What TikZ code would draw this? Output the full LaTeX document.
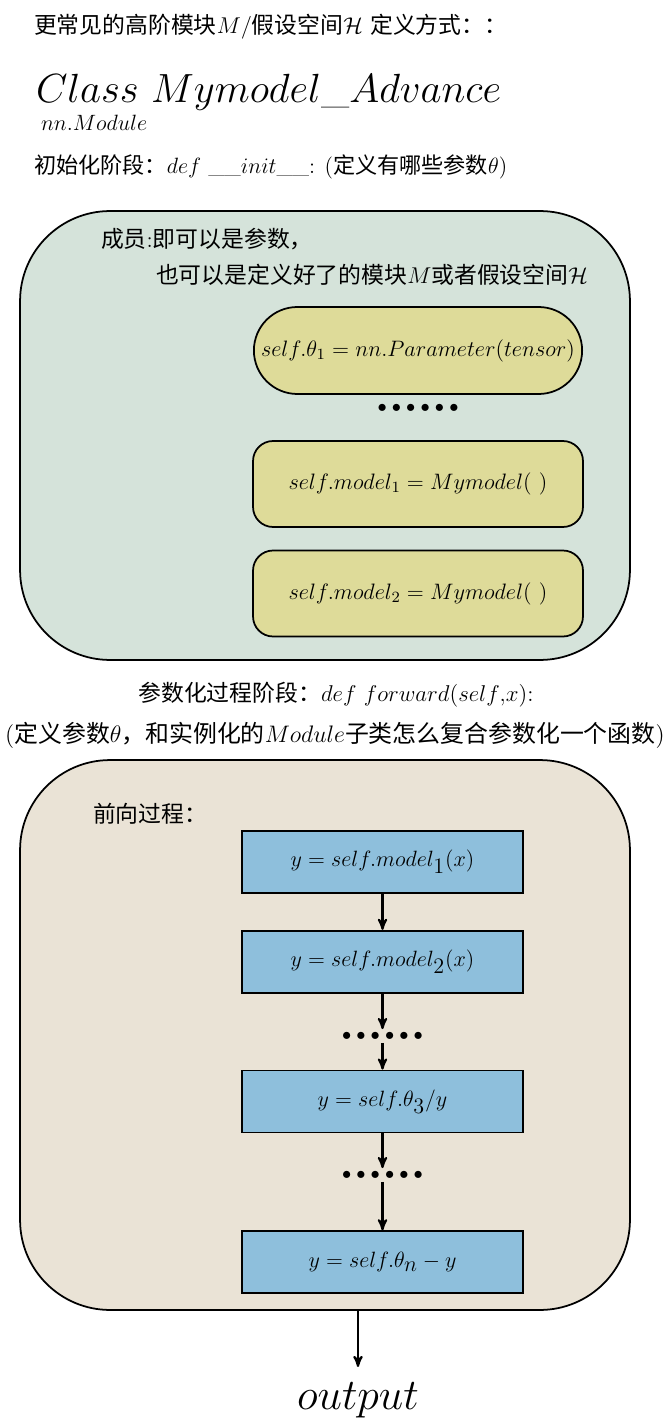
\RequirePackage{fix-cm}
\documentclass[tikz,border=0pt]{standalone}
\usepackage{fontspec}
\usepackage{amsmath}
\usepackage{amssymb}
\usepackage{tikz}
\usetikzlibrary{
  arrows,
  shapes.misc,
  positioning
}
\newfontfamily\cjk{Noto Sans CJK SC}
\definecolor{initfill}{RGB}{213,227,218}
\definecolor{fwdfill}{RGB}{234,227,214}
\definecolor{paramfill}{RGB}{222,219,153}
\definecolor{stepfill}{RGB}{142,191,220}
\newcommand{\sixdots}{${\bullet}\mkern5mu{\bullet}\mkern5mu{\bullet}\mkern5mu{\bullet}\mkern5mu{\bullet}\mkern5mu{\bullet}$}

\begin{document}
\begin{tikzpicture}[
      x=0.02cm,y=-0.02cm,
      container/.style={
         rectangle,
         draw=black,
         line width=1pt,
         rounded corners=1.8cm,
         minimum width=12.2cm
      },
      member/.style={
         rectangle,
         draw=black,
         line width=1pt,
         fill=paramfill,
         rounded corners=0.4cm,
         minimum width=6.6cm,
         minimum height=1.72cm,
         font=\fontsize{12.7pt}{16pt}\selectfont
      },
      memberround/.style={
         rounded rectangle,
         draw=black,
         line width=1pt,
         fill=paramfill,
         minimum width=6.8cm,
         minimum height=1.74cm,
         font=\fontsize{12.7pt}{16pt}\selectfont
      },
      stepbox/.style={
         rectangle,
         draw=black,
         line width=1pt,
         fill=stepfill,
         minimum width=5.62cm,
         minimum height=1.24cm,
         font=\fontsize{12.6pt}{16pt}\selectfont
      },
      dotrow/.style={inner sep=1pt, font=\fontsize{10.5pt}{12pt}\selectfont},
      note/.style={inner sep=0pt, font=\fontsize{13pt}{16pt}\selectfont},
      big/.style={inner sep=0pt, font=\fontsize{23.2pt}{28pt}\selectfont},
      >=stealth', line width=1.2pt
    ]
    \useasboundingbox (0,0) rectangle (671,1425);

    % headings
    \node (headline) [note, anchor=base west] at (33,34)
       {{\cjk 更常见的高阶模块}$M$/{\cjk 假设空间}$\mathcal{H}$ {\cjk 定义方式：：}};
    \node (classname) [big, anchor=base west] at (35,103) {$Class\ Mymodel\_Advance$};
    \node (superclass) [note, font=\fontsize{12.6pt}{15pt}\selectfont, anchor=base west] at (40,131) {$nn.Module$};
    \node (initline) [note, font=\fontsize{12.6pt}{15pt}\selectfont, anchor=base west] at (33,174)
       {{\cjk 初始化阶段：}$def$ \_\_$init$\_\_: ({\cjk 定义有哪些参数}$\theta$)};

    % init stage
    \node (initbox) [container, fill=initfill, minimum height=8.98cm] at (325,435.5) {};
    \node (memberA) [note, anchor=base west] at (100,248) {{\cjk 成员}:{\cjk 即可以是参数，}};
    \node (memberB) [note, anchor=base west] at (155,284)
       {{\cjk 也可以是定义好了的模块}$M${\cjk 或者假设空间}$\mathcal{H}$};
    \node (theta1) [memberround] at (418,350.5) {$self.\theta_1 = nn.Parameter(tensor)$};
    \node (dotsA) [dotrow] at (418,408) {\sixdots};
    \node (model1) [member] at (418,484) {$self.model_1 = Mymodel(\ )$};
    \node (model2) [member] at (418,593.5) {$self.model_2 = Mymodel(\ )$};

    % forward stage
    \node (fwdline) [note, anchor=base] at (336,701)
       {{\cjk 参数化过程阶段：}$def\ forward(self{,}x)$:};
    \node (fwdnote) [note, font=\fontsize{13.6pt}{16pt}\selectfont, anchor=base] at (335,742)
       {({\cjk 定义参数}$\theta${\cjk ，和实例化的}$Module${\cjk 子类怎么复合参数化一个函数})};
    \node (fwdbox) [container, fill=fwdfill, minimum height=11cm] at (325,1035) {};
    \node (fwdlabel) [note, anchor=base west] at (92,822) {{\cjk 前向过程：}};
    \node (step1) [stepbox] at (382.5,862) {$y = self.model_{\textstyle 1}(x)$};
    \node (step2) [stepbox, below=0.72cm of step1] {$y = self.model_{\textstyle 2}(x)$};
    \node (dotsB) [dotrow] at (382.5,1036) {\sixdots};
    \node (step3) [stepbox, below=1.52cm of step2] {$y = self.\theta_{\textstyle 3}/y$};
    \node (dotsC) [dotrow] at (382.5,1175) {\sixdots};
    \node (step4) [stepbox, below=1.94cm of step3] {$y = self.\theta_{\textstyle n} - y$};

    \draw[->] (step1.south) -- (step2.north);
    \draw[->] (step2.south) -- (dotsB.north);
    \draw[->] (dotsB.south) -- (step3.north);
    \draw[->] (step3.south) -- (dotsC.north);
    \draw[->] (dotsC.south) -- (step4.north);

    % output
    \node (outlabel) [big, font=\fontsize{24.9pt}{30pt}\selectfont, inner sep=8pt, anchor=base] at (358,1409) {$output$};
    \draw[->] (fwdbox.south -| outlabel) -- (outlabel);
\end{tikzpicture}
\end{document}
